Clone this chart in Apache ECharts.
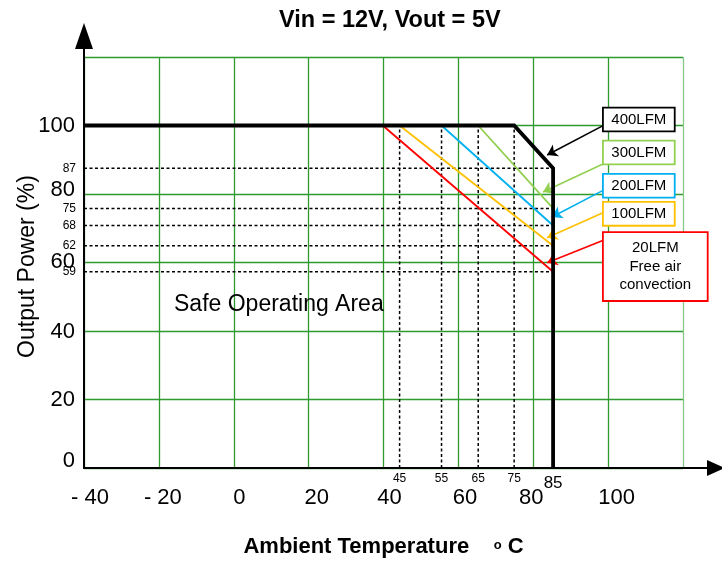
<!DOCTYPE html>
<html>
<head>
<meta charset="utf-8">
<script src="https://cdn.jsdelivr.net/npm/echarts@6/dist/echarts.min.js"></script>
<style>html,body{margin:0;padding:0;background:#fff}#c{width:722px;height:563px}</style>
</head>
<body>
<div id="c"></div>
<script>
// ---------- data ----------
const xTickLabels = ['- 40', '- 20', '0', '20', '40', '60', '80', '100', ''];
const yTickLabels = ['0', '20', '40', '60', '80', '100', ''];
const derateLevels = [87.5, 75.8, 70.8, 64.9, 57.3];
const derateLabels = ['87', '75', '68', '62', '59'];
const tempMarks = [44.3, 55.5, 65.3, 74.9];
const tempLabels = ['45', '55', '65', '75'];
const limitLabel = '85';
const airflowNames = ['400LFM', '300LFM', '200LFM', '100LFM', '20LFM\nFree air\nconvection'];
const lfm400 = [[-40, 100], [74.9, 100], [85.3, 87.5], [85.3, 0]];
const lfm300 = [[65.3, 100], [85.3, 75.8]];
const lfm200 = [[55.5, 100], [85.3, 70.8]];
const lfm100 = [[44.3, 100], [85.3, 64.9]];
const lfm20 = [[39.8, 100], [85.3, 57.3]];

// ---------- layout / style ----------
const FONT = 'Liberation Sans';
const GREEN = '#2f9b2f';
const curveColors = ['#000000', '#92D050', '#00B0F0', '#FFC000', '#FF0000'];
const callouts = [
  { box: [108.2, 101.75], size: [70, 22], from: [98.9, 100.1], to: [83.7, 91.4] },
  { box: [108.2, 92.1], size: [70, 22], from: [98.9, 88.9], to: [82.6, 80.6] },
  { box: [108.2, 82.4], size: [70, 22], from: [98.9, 81.2], to: [85.0, 73.3] },
  { box: [108.2, 74.2], size: [70, 22], from: [98.9, 74.7], to: [83.7, 67.2] },
  { box: [112.6, 58.8], size: [103, 67], from: [98.9, 66.6], to: [83.7, 59.9] }
];
const xShift = [6, 4, 5.5, 8, 6, 6.5, -2, 8.5, 0];
const yShift = [7, 0, -1, 1, 4, 0, 0];

const xRich = {}, yRich = {};
xShift.forEach((s, i) => {
  xRich['s' + i] = { fontSize: 22, fontFamily: FONT, color: '#000',
    padding: s >= 0 ? [0, 0, 0, 2 * s] : [0, -2 * s, 0, 0] };
});
yShift.forEach((s, i) => {
  yRich['s' + i] = { fontSize: 22, fontFamily: FONT, color: '#000',
    padding: s >= 0 ? [0, 0, 2 * s, 0] : [-2 * s, 0, 0, 0] };
});

const xEnd = lfm400[2][0];
const topY = lfm400[0][1];
const series = [];

derateLevels.forEach((v, i) => {
  series.push({
    type: 'line', silent: true, symbol: 'circle', symbolSize: 0.01, showSymbol: true, clip: false,
    itemStyle: { color: 'rgba(0,0,0,0)' }, z: 3,
    lineStyle: { color: '#000', width: 1.5, type: [3, 2.5] },
    data: [
      { value: [-40, v], label: { show: true, position: 'left', distance: 8, formatter: derateLabels[i],
        fontSize: 12, fontFamily: FONT, color: '#000' } },
      [xEnd, v]
    ]
  });
});
tempMarks.forEach((x, i) => {
  series.push({
    type: 'line', silent: true, symbol: 'circle', symbolSize: 0.01, showSymbol: true, clip: false,
    itemStyle: { color: 'rgba(0,0,0,0)' }, z: 3,
    lineStyle: { color: '#000', width: 1.5, type: [3, 2.5] },
    data: [
      { value: [x, 0], label: { show: true, position: 'bottom', distance: 5, formatter: tempLabels[i],
        fontSize: 12, fontFamily: FONT, color: '#000' } },
      [x, topY]
    ]
  });
});

const curves = [lfm400, lfm300, lfm200, lfm100, lfm20];
curves.slice(1).forEach((d, k) => {
  const i = k + 1;
  series.push({ type: 'line', silent: true, symbol: 'none', z: 4, data: d,
    lineStyle: { color: curveColors[i], width: 1.8 } });
});

const lastIdx = lfm400.length - 1;
series.push({
  type: 'line', silent: true, symbol: 'circle', symbolSize: 0.01, showSymbol: true, z: 5, clip: false,
  itemStyle: { color: 'rgba(0,0,0,0)' },
  lineStyle: { color: '#000', width: 3.8, join: 'miter' },
  data: lfm400.map((p, i) => i === lastIdx ? { value: p, label: { show: true, position: 'bottom', distance: 7,
    formatter: limitLabel, fontSize: 17, fontFamily: FONT, color: '#000' } } : p)
});

// callouts (boxes + arrows)
curves.forEach((d, i) => {
  const c = callouts[i];
  series.push({
    type: 'line', silent: true, symbol: 'none', data: [], z: 6,
    markLine: {
      silent: true, animation: false, symbol: ['none', 'arrow'], symbolSize: 10,
      lineStyle: { color: curveColors[i], width: 1.6, type: 'solid' },
      label: { show: false },
      data: [[{ coord: c.from }, { coord: c.to }]]
    },
    markPoint: {
      silent: true, animation: false,
      data: [{ coord: c.box, symbol: 'circle', symbolSize: 0,
        itemStyle: { color: 'rgba(0,0,0,0)' },
        label: { show: true, position: 'inside', formatter: airflowNames[i], fontSize: 15,
          fontFamily: FONT, color: '#000', lineHeight: 18.5, align: 'center', verticalAlign: 'middle',
          width: c.size[0] - 4, height: c.size[1] - 4, padding: 2,
          backgroundColor: '#fff', borderColor: curveColors[i], borderWidth: 1.8 } }]
    }
  });
});

const chart = echarts.init(document.getElementById('c'));
chart.setOption({
  animation: false,
  backgroundColor: '#fff',
  title: { text: 'Vin = 12V, Vout = 5V', left: 279, top: 9, padding: 0,
    textStyle: { fontFamily: FONT, fontSize: 23.5, fontWeight: 'bold', color: '#000' } },
  grid: [
    { left: 84, right: 39, top: 57, bottom: 95, outerBoundsMode: 'none', containLabel: false },
    { left: 84, right: 6, top: 36, bottom: 95, outerBoundsMode: 'none', containLabel: false }
  ],
  xAxis: [
    { type: 'value', gridIndex: 0, min: -40, max: 120, interval: 20,
      axisLine: { show: false }, axisTick: { show: false },
      splitLine: { show: true, lineStyle: { width: 1.3,
        color: [GREEN, GREEN, GREEN, GREEN, GREEN, GREEN, GREEN, GREEN, '#86c886'] } },
      axisLabel: { margin: 19, fontSize: 22, fontFamily: FONT, color: '#000', rich: xRich,
        formatter: v => { const i = Math.round((v + 40) / 20); return xTickLabels[i] ? '{s' + i + '|' + xTickLabels[i] + '}' : ''; } },
      name: '{a|Ambient Temperature    }{b|o}{a| C}', nameLocation: 'middle', nameGap: 68, nameMoveOverlap: false,
      nameTextStyle: { rich: {
        a: { fontSize: 22, fontWeight: 'bold', fontFamily: FONT, color: '#000' },
        b: { fontSize: 13, fontWeight: 'bold', fontFamily: FONT, color: '#000', verticalAlign: 'top', padding: [3, 0, 0, 0] } } } },
    { type: 'value', gridIndex: 1, min: 0, max: 1,
      axisLine: { show: true, onZero: false, symbol: ['none', 'triangle'], symbolSize: [16, 18],
        lineStyle: { color: '#000', width: 2 } },
      axisTick: { show: false }, axisLabel: { show: false }, splitLine: { show: false } }
  ],
  yAxis: [
    { type: 'value', gridIndex: 0, min: 0, max: 120, interval: 20,
      axisLine: { show: false }, axisTick: { show: false },
      splitLine: { show: true, lineStyle: { color: GREEN, width: 1.3 } },
      axisLabel: { margin: 9, fontSize: 22, fontFamily: FONT, color: '#000', rich: yRich,
        formatter: v => { const i = Math.round(v / 20); return yTickLabels[i] ? '{s' + i + '|' + yTickLabels[i] + '}' : ''; } },
      name: 'Output Power (%)', nameLocation: 'middle', nameGap: 45, nameRotate: 90, nameMoveOverlap: false,
      nameTextStyle: { fontSize: 23, fontFamily: FONT, color: '#000', padding: [0, 8, 0, 0] } },
    { type: 'value', gridIndex: 1, min: 0, max: 1,
      axisLine: { show: true, onZero: false, symbol: ['none', 'triangle'], symbolSize: [18, 26],
        lineStyle: { color: '#000', width: 2 } },
      axisTick: { show: false }, axisLabel: { show: false }, splitLine: { show: false } }
  ],
  graphic: [
    { type: 'text', left: 174, top: 293, z: 1,
      style: { text: 'Safe Operating Area', fontSize: 23, fontFamily: FONT, fill: '#000' } }
  ],
  series: series
});
</script>
</body>
</html>
